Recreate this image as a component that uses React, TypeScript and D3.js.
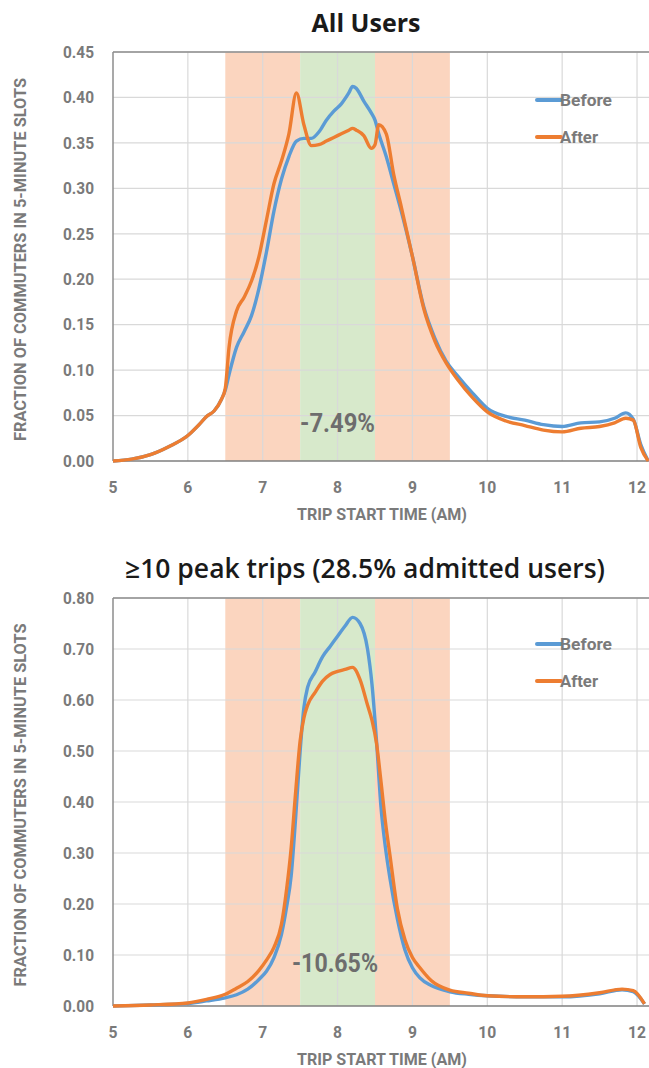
import React, { useEffect, useRef } from "react";
import * as d3 from "d3";

// x: trip start time (hours AM)
const xTicks = [5, 6, 7, 8, 9, 10, 11, 12];
const bandOrange = [
	[6.5, 7.5],
	[8.5, 9.5],
];
const bandGreen = [[7.5, 8.5]];
const seriesNames = ["Before", "After"];

// --- All Users
const topTitle = "All Users";
const topNote = "-7.49%";
const topYTicks = [0, 0.05, 0.1, 0.15, 0.2, 0.25, 0.3, 0.35, 0.4, 0.45];
const topHours = [
	5.0, 5.25, 5.5, 5.75, 6.0, 6.15, 6.25, 6.35, 6.45, 6.5, 6.55, 6.65, 6.75,
	6.85, 6.95, 7.05, 7.15, 7.25, 7.35, 7.45, 7.55, 7.65, 7.75, 7.85, 7.95, 8.05,
	8.15, 8.2, 8.25, 8.35, 8.45, 8.5, 8.55, 8.65, 8.75, 8.85, 9.0, 9.15, 9.3,
	9.45, 9.6, 9.8, 10.0, 10.25, 10.5, 10.75, 11.0, 11.25, 11.5, 11.7, 11.85,
	11.95, 12.05, 12.15,
];
const topBefore = [
	0.0, 0.002, 0.007, 0.016, 0.028, 0.04, 0.049, 0.055, 0.068, 0.078, 0.095,
	0.125, 0.142, 0.16, 0.19, 0.23, 0.275, 0.31, 0.335, 0.352, 0.355, 0.355,
	0.362, 0.375, 0.385, 0.393, 0.405, 0.412, 0.41, 0.396, 0.383, 0.375, 0.36,
	0.335, 0.305, 0.275, 0.225, 0.17, 0.135, 0.11, 0.094, 0.075, 0.058, 0.049,
	0.045, 0.04, 0.038, 0.042, 0.043, 0.047, 0.053, 0.046, 0.018, 0.0,
];
const topAfter = [
	0.0, 0.002, 0.007, 0.016, 0.028, 0.04, 0.049, 0.055, 0.068, 0.08, 0.125,
	0.165, 0.18, 0.198, 0.225, 0.265, 0.305, 0.33, 0.36, 0.405, 0.37, 0.347,
	0.348, 0.352, 0.356, 0.36, 0.364, 0.366, 0.364, 0.358, 0.344, 0.348, 0.37,
	0.36, 0.315, 0.28, 0.225, 0.168, 0.132, 0.108, 0.09, 0.07, 0.054, 0.044,
	0.039, 0.034, 0.032, 0.036, 0.038, 0.042, 0.047, 0.045, 0.015, 0.0,
];

// --- >=10 peak trips
const botTitle = "≥10 peak trips (28.5% admitted users)";
const botNote = "-10.65%";
const botYTicks = [0, 0.1, 0.2, 0.3, 0.4, 0.5, 0.6, 0.7, 0.8];
const botHours = [
	5.0, 5.5, 6.0, 6.25, 6.5, 6.65, 6.8, 6.95, 7.05, 7.15, 7.25, 7.32, 7.38,
	7.44, 7.5, 7.55, 7.6, 7.7, 7.8, 7.9, 8.0, 8.1, 8.2, 8.3, 8.4, 8.46, 8.52,
	8.58, 8.64, 8.7, 8.8, 8.9, 9.0, 9.1, 9.25, 9.5, 9.75, 10.0, 10.5, 11.0, 11.5,
	11.8, 11.95, 12.1,
];
const botBefore = [
	0.0, 0.002, 0.005, 0.01, 0.016, 0.022, 0.033, 0.052, 0.068, 0.095, 0.14,
	0.195, 0.255, 0.37, 0.5, 0.585, 0.625, 0.655, 0.685, 0.705, 0.725, 0.745,
	0.762, 0.75, 0.7, 0.63, 0.52, 0.39, 0.31, 0.25, 0.17, 0.11, 0.075, 0.055,
	0.04, 0.028, 0.023, 0.02, 0.018, 0.018, 0.024, 0.032, 0.028, 0.004,
];
const botAfter = [
	0.0, 0.002, 0.006, 0.013, 0.023, 0.035, 0.048, 0.07, 0.09, 0.115, 0.16,
	0.23, 0.31, 0.42, 0.52, 0.565, 0.59, 0.615, 0.637, 0.65, 0.656, 0.66, 0.664,
	0.64, 0.59, 0.56, 0.515, 0.44, 0.36, 0.295, 0.19, 0.13, 0.095, 0.075, 0.05,
	0.031, 0.025, 0.02, 0.018, 0.019, 0.026, 0.033, 0.03, 0.004,
];

const COLORS = ["#5b9bd5", "#ed7d31"];
const NARROW = "'Liberation Sans Narrow', 'Roboto', sans-serif";
const TITLE_FONT = "'Open Sans', 'Noto Sans', sans-serif";
const GRAY = "#7a7a7a";

function drawChart(svg, cfg) {
	const { top, bottom, yMax, yTicks, hours, before, after, title, note } = cfg;
	const left = 113;
	const x = d3.scaleLinear().domain([5, 12.2]).range([left, left + 7.2 * 74.86]);
	const y = d3.scaleLinear().domain([0, yMax]).range([bottom, top]);
	const right = 660;
	const g = svg.append("g");

	// shaded periods
	g.selectAll(".bo")
		.data(bandOrange)
		.enter()
		.append("rect")
		.attr("x", (d) => x(d[0]))
		.attr("width", (d) => x(d[1]) - x(d[0]))
		.attr("y", top)
		.attr("height", bottom - top)
		.attr("fill", "#fbd5bf");
	g.selectAll(".bg")
		.data(bandGreen)
		.enter()
		.append("rect")
		.attr("x", (d) => x(d[0]))
		.attr("width", (d) => x(d[1]) - x(d[0]))
		.attr("y", top)
		.attr("height", bottom - top)
		.attr("fill", "#d7e9cb");

	// grid
	g.selectAll(".hg")
		.data(yTicks.slice(1))
		.enter()
		.append("line")
		.attr("x1", left)
		.attr("x2", right)
		.attr("y1", (d) => y(d))
		.attr("y2", (d) => y(d))
		.attr("stroke", "#d9d9d9")
		.attr("stroke-width", 1.2);
	g.selectAll(".vg")
		.data(xTicks.slice(1))
		.enter()
		.append("line")
		.attr("x1", (d) => x(d))
		.attr("x2", (d) => x(d))
		.attr("y1", top)
		.attr("y2", bottom)
		.attr("stroke", "#d9d9d9")
		.attr("stroke-width", 1.2);

	// frame
	g.append("line").attr("x1", left).attr("x2", right).attr("y1", top).attr("y2", top).attr("stroke", "#8c8c8c").attr("stroke-width", 1.5);
	g.append("line").attr("x1", left).attr("x2", left).attr("y1", top).attr("y2", bottom).attr("stroke", "#8c8c8c").attr("stroke-width", 1.5);
	g.append("line").attr("x1", left).attr("x2", right).attr("y1", bottom).attr("y2", bottom).attr("stroke", "#7f7f7f").attr("stroke-width", 1.5);

	// ticks (squeezed to look condensed)
	g.selectAll(".yt")
		.data(yTicks)
		.enter()
		.append("text")
		.attr("x", 94)
		.attr("y", (d) => y(d))
		.attr("dy", "0.36em")
		.attr("text-anchor", "end")
		.attr("font-family", NARROW)
		.attr("font-weight", "bold")
		.attr("font-size", 16)
		.attr("fill", GRAY)
		.attr("textLength", 31)
		.attr("lengthAdjust", "spacingAndGlyphs")
		.text((d) => d3.format(".2f")(d));
	g.selectAll(".xt")
		.data(xTicks)
		.enter()
		.append("text")
		.attr("x", (d) => x(d))
		.attr("y", bottom + 32)
		.attr("text-anchor", "middle")
		.attr("font-family", NARROW)
		.attr("font-weight", "bold")
		.attr("font-size", 17)
		.attr("fill", GRAY)
		.attr("textLength", (d) => (d >= 10 ? 18 : 9))
		.attr("lengthAdjust", "spacingAndGlyphs")
		.text((d) => d);

	// axis titles
	g.append("text")
		.attr("x", 382)
		.attr("y", bottom + 59)
		.attr("text-anchor", "middle")
		.attr("font-family", NARROW)
		.attr("font-weight", "bold")
		.attr("font-size", 17)
		.attr("fill", GRAY)
		.attr("textLength", 170)
		.attr("lengthAdjust", "spacingAndGlyphs")
		.text("TRIP START TIME (AM)");
	const midY = (top + bottom) / 2 + 3;
	g.append("text")
		.attr("transform", `translate(26, ${midY}) rotate(-90)`)
		.attr("text-anchor", "middle")
		.attr("font-family", NARROW)
		.attr("font-weight", "bold")
		.attr("font-size", 17)
		.attr("fill", GRAY)
		.attr("textLength", 363)
		.attr("lengthAdjust", "spacingAndGlyphs")
		.text("FRACTION OF COMMUTERS IN 5-MINUTE SLOTS");

	// title
	g.append("text")
		.attr("x", cfg.titleX)
		.attr("y", top - 20)
		.attr("text-anchor", "middle")
		.attr("font-family", TITLE_FONT)
		.attr("font-weight", cfg.titleWeight)
		.attr("font-size", cfg.titleSize)
		.attr("fill", "#1a1a1a")
		.text(title);

	// lines
	const line = d3
		.line()
		.x((d) => x(d[0]))
		.y((d) => y(d[1]))
		.curve(d3.curveMonotoneX);
	[before, after].forEach((vals, i) => {
		g.append("path")
			.datum(hours.map((h, j) => [h, vals[j]]))
			.attr("d", line)
			.attr("fill", "none")
			.attr("stroke", COLORS[i])
			.attr("stroke-width", 3.4)
			.attr("stroke-linejoin", "round");
	});

	// change annotation
	g.append("text")
		.attr("x", cfg.noteX)
		.attr("y", cfg.noteY)
		.attr("dy", "0.36em")
		.attr("text-anchor", "middle")
		.attr("font-family", NARROW)
		.attr("font-weight", "bold")
		.attr("font-size", 25)
		.attr("fill", "#6d6d6d")
		.attr("textLength", cfg.noteW)
		.attr("lengthAdjust", "spacingAndGlyphs")
		.text(note);

	// legend
	seriesNames.forEach((name, i) => {
		const ly = cfg.legendY + i * 37;
		g.append("line")
			.attr("x1", 537)
			.attr("x2", 561)
			.attr("y1", ly)
			.attr("y2", ly)
			.attr("stroke", COLORS[i])
			.attr("stroke-width", 4)
			.attr("stroke-linecap", "round");
		g.append("text")
			.attr("x", 560)
			.attr("y", ly)
			.attr("dy", "0.36em")
			.attr("font-family", NARROW)
			.attr("font-weight", "bold")
			.attr("font-size", 17)
			.attr("fill", GRAY)
			.attr("textLength", i === 0 ? 52 : 38)
			.attr("lengthAdjust", "spacingAndGlyphs")
			.text(name);
	});
}

export default function App() {
	const ref = useRef(null);
	useEffect(() => {
		const svg = d3.select(ref.current);
		svg.selectAll("*").remove();
		drawChart(svg, {
			top: 52,
			bottom: 461,
			yMax: 0.45,
			yTicks: topYTicks,
			hours: topHours,
			before: topBefore,
			after: topAfter,
			title: topTitle,
			titleX: 366,
			titleSize: 25,
			titleWeight: 700,
			note: topNote,
			noteX: 337.5,
			noteY: 423,
			noteW: 75,
			legendY: 100,
		});
		drawChart(svg, {
			top: 598,
			bottom: 1006,
			yMax: 0.8,
			yTicks: botYTicks,
			hours: botHours,
			before: botBefore,
			after: botAfter,
			title: botTitle,
			titleX: 365,
			titleSize: 26.5,
			titleWeight: 600,
			note: botNote,
			noteX: 335,
			noteY: 963,
			noteW: 86,
			legendY: 644,
		});
	}, []);
	return (
		<svg
			ref={ref}
			width={649}
			height={1068}
			style={{ position: "absolute", left: 0, top: 0, background: "#fff" }}
		></svg>
	);
}
